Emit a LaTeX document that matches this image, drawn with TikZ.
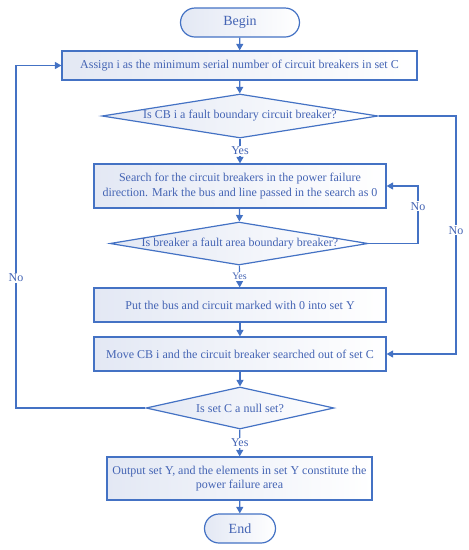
\documentclass[tikz,border=0pt]{standalone}
\usepackage{fontspec}
\setmainfont{Liberation Serif}
\usetikzlibrary{shapes.geometric,arrows.meta}
\definecolor{lineblue}{HTML}{4472C4}
\definecolor{txtblue}{HTML}{4464B4}
\definecolor{shadeblue}{HTML}{E3E8F4}
\begin{document}
\begin{tikzpicture}[x=1pt,y=-1pt,
  every node/.style={text=txtblue},
  base/.style={draw=lineblue, line width=1.2pt, left color=shadeblue, right color=white, inner sep=0pt},
  procbox/.style={base, rectangle, font=\fontsize{12}{14.5}\selectfont, align=center},
  termbox/.style={base, rounded corners=14.5pt, minimum width=#1, minimum height=29pt, font=\fontsize{14}{16}\selectfont},
  decide/.style={base, diamond, minimum width=#1},
  dtext/.style={font=\fontsize{12}{14}\selectfont, inner sep=0pt},
  conn/.style={draw=lineblue, line width=1.2pt, -{Triangle[length=6.5pt,width=7pt]}},
  lab/.style={fill=white, inner sep=1pt, font=\fontsize{12}{14}\selectfont},
  slab/.style={fill=white, inner sep=1pt, font=\fontsize{10}{12}\selectfont}
]
\useasboundingbox (0,0) rectangle (469,550);

\node[termbox=119pt] (begin) at (240,22.5) {Begin};
\node[procbox, minimum width=355pt, minimum height=29pt] (assign) at (239.5,65.5) {Assign i as the minimum serial number of circuit breakers in set C};
\node[decide=276pt, minimum height=44pt] (d1) at (240,116) {};
\node[dtext] (d1t) at (240,116) {Is CB i a fault boundary circuit breaker?};
\node[procbox, minimum width=292pt, minimum height=44pt] (search) at (240,186) {Search for the circuit breakers in the power failure\\direction. Mark the bus and line passed in the search as 0};
\node[decide=258pt, minimum height=43pt] (d2) at (239,243.5) {};
\node[dtext] (d2t) at (240,244) {Is breaker a fault area boundary breaker?};
\node[procbox, minimum width=292pt, minimum height=34pt] (put) at (240,305) {Put the bus and circuit marked with 0 into set Y};
\node[procbox, minimum width=292pt, minimum height=34pt] (move) at (240,354) {Move CB i and the circuit breaker searched out of set C};
\node[decide=188pt, minimum height=42pt] (d3) at (240,408) {};
\node[dtext] (d3t) at (240,408) {Is set C a null set?};
\node[procbox, minimum width=265pt, minimum height=43pt] (out) at (239.5,478.5) {Output set Y, and the elements in set Y constitute the\\power failure area};
\node[termbox=71pt] (end) at (240,528.5) {End};

\coordinate (r2a) at (418,243.5);
\coordinate (r2b) at (418,186);
\coordinate (r1a) at (456,116);
\coordinate (r1b) at (456,354);
\coordinate (l3a) at (16,408);
\coordinate (l3b) at (16,65.5);

\draw[conn] (begin) -- (assign);
\draw[conn] (assign) -- (d1);
\draw[conn] (d1) -- node[lab, pos=0.5] {Yes} (search);
\draw[conn] (search) -- (d2);
\draw[conn] (d2) -- node[slab, pos=0.5] {Yes} (put);
\draw[conn] (put) -- (move);
\draw[conn] (move) -- (d3);
\draw[conn] (d3) -- node[lab, pos=0.5] {Yes} (out);
\draw[conn] (out) -- (end);
\draw[conn] (d2.east) -- (r2a) -- node[lab, pos=0.65] {No} (r2b) -- (search.east);
\draw[conn] (d1.east) -- (r1a) -- node[lab, pos=0.48] {No} (r1b) -- (move.east);
\draw[conn] (d3.west) -- (l3a) -- node[lab, pos=0.38] {No} (l3b) -- (assign.west);
\end{tikzpicture}
\end{document}
